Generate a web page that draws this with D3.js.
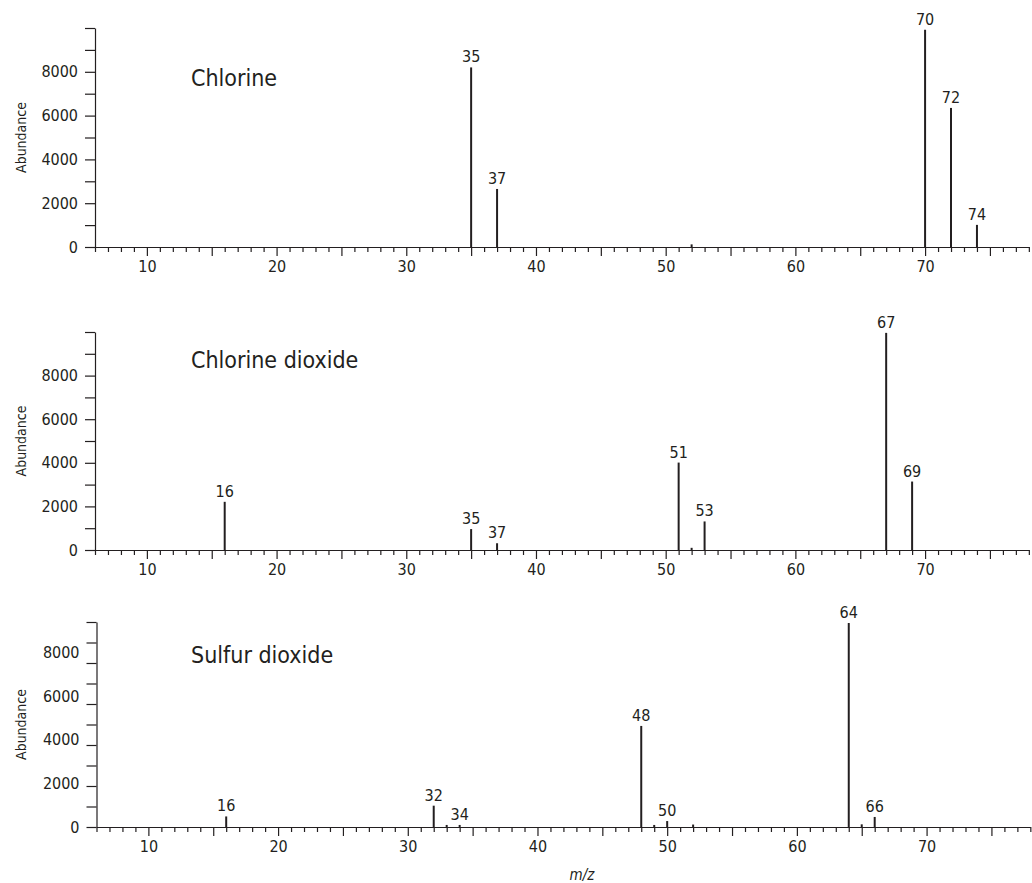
<!DOCTYPE html>
<html>
<head>
<meta charset="utf-8">
<script src="https://cdn.jsdelivr.net/npm/d3@7"></script>
<style>
  body { margin: 0; background: #fff; }
  text { font-family: "Liberation Sans Narrow", "DejaVu Sans Condensed", "Roboto", sans-serif; fill: #231f20; }
</style>
</head>
<body>
<script>
// peaks (m/z and abundance)
var chlorineMz    = [35, 37, 52, 70, 72, 74];
var chlorineAbund = [8200, 2650, 120, 9920, 6350, 1010];

var clo2Mz    = [16, 35, 37, 51, 52, 53, 67, 69];
var clo2Abund = [2210, 960, 310, 4010, 100, 1310, 9960, 3140];

var so2Mz    = [16, 32, 33, 34, 48, 49, 50, 52, 64, 65, 66];
var so2Abund = [515, 1040, 100, 100, 4930, 100, 290, 120, 9950, 130, 490];

// which peaks carry a number on top
var chlorineLabeled = [35, 37, 70, 72, 74];
var clo2Labeled     = [16, 35, 37, 51, 53, 67, 69];
var so2Labeled      = [16, 32, 34, 48, 50, 64, 66];

var titles = ["Chlorine", "Chlorine dioxide", "Sulfur dioxide"];
var yTickLabels = [0, 2000, 4000, 6000, 8000];
var xTickLabels = [10, 20, 30, 40, 50, 60, 70];

var mzDomain = [6, 78];
var abundMax = 10000;

// layout of the three stacked panels (pixels)
var panels = [
  {mz: chlorineMz, ab: chlorineAbund, lab: chlorineLabeled, top: 28,  base: 247, left: 95,  labelSpan: 219, titleY: 86},
  {mz: clo2Mz,     ab: clo2Abund,     lab: clo2Labeled,     top: 332, base: 550, left: 95,  labelSpan: 218, titleY: 368},
  {mz: so2Mz,      ab: so2Abund,      lab: so2Labeled,      top: 622, base: 827, left: 96.5, labelSpan: 218, titleY: 663}
];
var pxPerMz = 12.97;

var svg = d3.select("body").append("svg")
  .attr("width", 1032)
  .attr("height", 883);

panels.forEach(function(p, i) {
  var x = d3.scaleLinear().domain(mzDomain)
    .range([p.left, p.left + (mzDomain[1] - mzDomain[0]) * pxPerMz]);
  var y = d3.scaleLinear().domain([0, abundMax]).range([p.base, p.top]);
  // the tick numbers in the original sit on their own spacing
  var yLab = d3.scaleLinear().domain([0, abundMax]).range([p.base, p.base - p.labelSpan]);

  var g = svg.append("g");

  // x axis
  var xAxis = d3.axisBottom(x)
    .tickValues(d3.range(mzDomain[0], mzDomain[1] + 1))
    .tickSizeInner(5)
    .tickSizeOuter(0)
    .tickPadding(9)
    .tickFormat(function(d) { return d % 10 === 0 ? d : ""; });

  var xg = g.append("g")
    .attr("transform", "translate(0," + p.base + ")")
    .call(xAxis);
  xg.selectAll(".tick line")
    .attr("y2", function(d) { return d % 5 === 0 ? 9 : 5; });
  xg.selectAll("text").style("font-size", "16px");
  xg.selectAll("path, line").attr("stroke", "#231f20").attr("stroke-width", 1.2);

  // y axis
  var yAxis = d3.axisLeft(y)
    .tickValues(d3.range(0, abundMax + 1, 1000))
    .tickSizeInner(10)
    .tickSizeOuter(0)
    .tickFormat("");
  var yg = g.append("g")
    .attr("transform", "translate(" + p.left + ",0)")
    .call(yAxis);
  yg.selectAll("path, line").attr("stroke", "#231f20").attr("stroke-width", 1.2);

  g.selectAll(".ylab")
    .data(yTickLabels)
    .enter().append("text")
    .attr("class", "ylab")
    .attr("x", p.left - 17)
    .attr("y", function(d) { return yLab(d); })
    .attr("dy", "0.35em")
    .attr("text-anchor", "end")
    .style("font-size", "16px")
    .text(function(d) { return d; });

  g.append("text")
    .attr("transform", "translate(21," + ((p.top + p.base) / 2) + ") rotate(-90)")
    .attr("text-anchor", "middle")
    .attr("dy", "0.35em")
    .style("font-size", "14px")
    .text("Abundance");

  // peaks
  var peaks = p.mz.map(function(m, k) { return {mz: m, ab: p.ab[k]}; });

  g.selectAll(".peak")
    .data(peaks)
    .enter().append("line")
    .attr("class", "peak")
    .attr("x1", function(d) { return x(d.mz); })
    .attr("x2", function(d) { return x(d.mz); })
    .attr("y1", y(0))
    .attr("y2", function(d) { return y(d.ab); })
    .attr("stroke", "#231f20")
    .attr("stroke-width", 2);

  g.selectAll(".plab")
    .data(peaks.filter(function(d) { return p.lab.indexOf(d.mz) >= 0; }))
    .enter().append("text")
    .attr("class", "plab")
    .attr("x", function(d) { return x(d.mz); })
    .attr("y", function(d) { return y(d.ab) - 5; })
    .attr("text-anchor", "middle")
    .style("font-size", "16px")
    .text(function(d) { return d.mz; });

  g.append("text")
    .attr("x", 191)
    .attr("y", p.titleY)
    .style("font-size", "23px")
    .text(titles[i]);
});

svg.append("text")
  .attr("x", 582)
  .attr("y", 880)
  .attr("text-anchor", "middle")
  .style("font-size", "15px")
  .style("font-style", "italic")
  .text("m/z");
</script>
</body>
</html>
